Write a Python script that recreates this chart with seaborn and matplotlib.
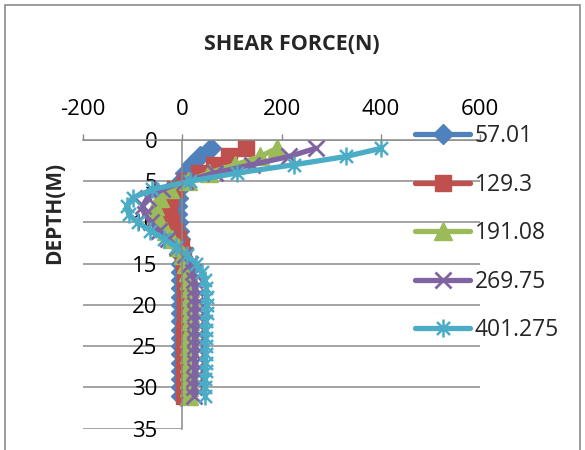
import matplotlib
matplotlib.use("Agg")
import matplotlib.pyplot as plt
from matplotlib.path import Path
from matplotlib.patches import Rectangle
import pandas as pd
import seaborn as sns

# Depth below ground (m) at which shear force was computed
depth = list(range(1, 32))

# Shear force (N) along the pile for each load case
sf_57 = [57, 35, 17, 5, -2, -6, -9, -10, -10, -9, -7, -5, -4, -3, -3,
         -3, -3, -3, -3, -3, -3, -3, -3, -3, -3, -3, -3, -3, -3, -3, -3]
sf_129 = [129.3, 95, 64, 34, 5, -14, -24, -28, -27, -22, -15, -8, -2, 2, 4,
          5, 5, 5, 5, 5, 5, 5, 4, 4, 4, 4, 4, 4, 4, 4, 4]
sf_191 = [191.08, 157, 107, 53, 12, -25, -45, -54, -52, -44, -33, -21, -9, 1, 8,
          12, 14, 15, 15, 15, 15, 15, 15, 14, 14, 14, 14, 14, 14, 14, 14]
sf_270 = [269.75, 215, 140, 65, 5, -40, -70, -80, -76, -63, -46, -28, -10, 5, 15,
          21, 24, 25, 26, 26, 26, 26, 25, 25, 25, 25, 25, 25, 24, 24, 24]
sf_401 = [401.275, 330, 225, 111, 15, -60, -100, -112, -108, -90, -64, -36, -12, 10, 28,
          39, 45, 48, 49, 49, 49, 48, 48, 48, 47, 47, 47, 47, 46, 46, 46]

series_labels = ["57.01", "129.3", "191.08", "269.75", "401.275"]
series_values = [sf_57, sf_129, sf_191, sf_270, sf_401]
colors = ["#4F81BD", "#C0504D", "#9BBB59", "#8064A2", "#4BACC6"]

x_ticks = [-200, 0, 200, 400, 600]
y_ticks = [0, 5, 10, 15, 20, 25, 30, 35]

# Asterisk-style marker: vertical bar plus a diagonal cross
star = Path([(0, -1), (0, 1), (-0.72, -0.72), (0.72, 0.72), (-0.72, 0.72), (0.72, -0.72)],
            [Path.MOVETO, Path.LINETO, Path.MOVETO, Path.LINETO, Path.MOVETO, Path.LINETO])

marker_styles = [
    dict(marker="D", markersize=10.5, markeredgewidth=1),
    dict(marker="s", markersize=11.5, markeredgewidth=1),
    dict(marker="^", markersize=12.5, markeredgewidth=1),
    dict(marker="x", markersize=12, markeredgewidth=2),
    dict(marker=star, markersize=13, markeredgewidth=1.8),
]

sns.set_theme(style="white")
plt.rcParams["font.family"] = ["Open Sans", "DejaVu Sans"]
plt.rcParams["axes.unicode_minus"] = False

grid_col = "#8a8a8a"

fig = plt.figure(figsize=(5.85, 4.5), dpi=100)
ax = fig.add_axes([83 / 585, 1 - 428.7 / 450, 397 / 585, 288.7 / 450])

for label, vals, col, mk in zip(series_labels, series_values, colors, marker_styles):
    df = pd.DataFrame({"force": vals, "depth": depth})
    sns.lineplot(data=df, x="force", y="depth", sort=False, estimator=None,
                 orient="y", ax=ax, color=col, lw=3.8, label=label,
                 markeredgecolor=col, markerfacecolor=col,
                 solid_joinstyle="round", solid_capstyle="round", **mk)

ax.set_xlim(-200, 600)
ax.set_ylim(35, 0)
ax.set_xticks(x_ticks)
ax.set_yticks(y_ticks)
ax.set_xlabel("")
ax.set_ylabel("")

# x axis along the top, y axis crossing at zero force
ax.xaxis.tick_top()
ax.tick_params(axis="x", length=4.5, width=1, color=grid_col, pad=10,
               labelsize=16, labelcolor="black")
ax.spines["left"].set_position(("data", 0))
ax.tick_params(axis="y", length=0, pad=18, labelsize=16, labelcolor="black")
for side in ("right", "bottom"):
    ax.spines[side].set_visible(False)
for side in ("left", "top"):
    ax.spines[side].set_color(grid_col)
    ax.spines[side].set_linewidth(1.1)

ax.grid(axis="y", color=grid_col, lw=1.1)
ax.grid(axis="x", visible=False)
ax.get_ygridlines()[-1].set_visible(False)
ax.axhline(y_ticks[-1], xmin=0, xmax=0.25, color=grid_col, lw=1.1, zorder=0.5)
ax.set_axisbelow(True)

# Legend on the right, overlapping the plot area
leg = ax.legend(loc="upper left", bbox_to_anchor=(406 / 585, 1 - 115 / 450),
                bbox_transform=fig.transFigure, frameon=False, fontsize=16.5,
                handlelength=2.4, handletextpad=0.2, labelspacing=1.07,
                borderaxespad=0)

fig.text(292 / 585, 1 - 45 / 450, "SHEAR FORCE(N)", ha="center", va="center",
         fontsize=15.5, fontweight="bold")
fig.text(55 / 585, 1 - 213 / 450, "DEPTH(M)", ha="center", va="center",
         rotation=90, fontsize=15, fontweight="bold")

# Chart-area border
fig.patches.append(Rectangle((5 / 585, -0.05), 575 / 585, 1.05 - 5 / 450,
                             transform=fig.transFigure, fill=False,
                             edgecolor=grid_col, lw=1.2))

fig.savefig("out.png", dpi=100)
